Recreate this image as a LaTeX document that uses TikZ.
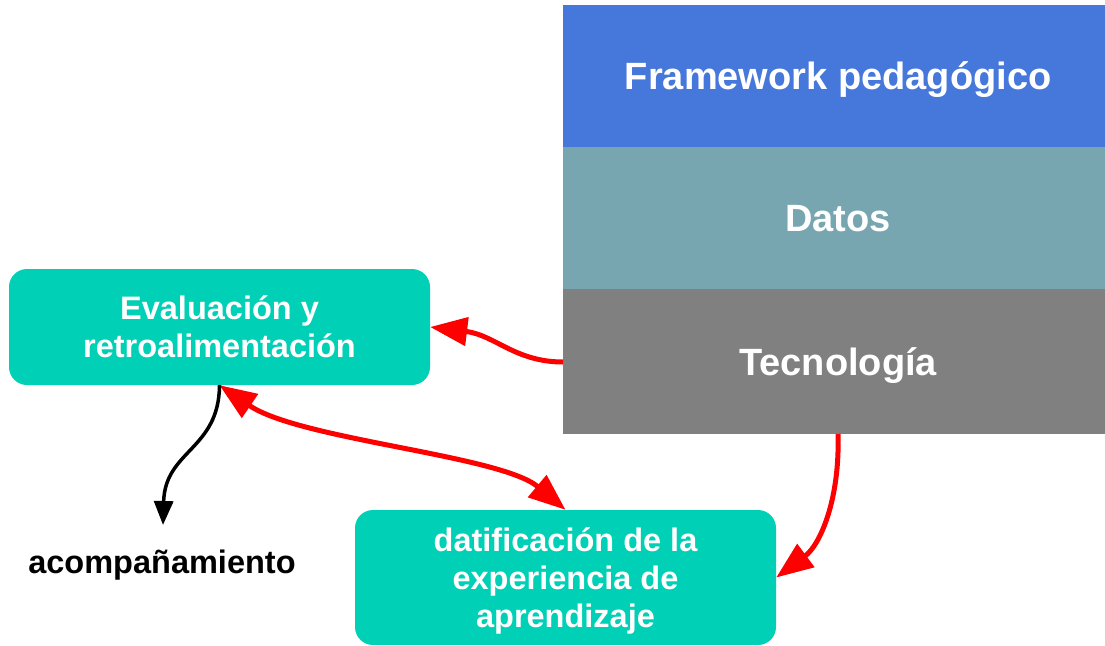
\documentclass[tikz,border=0pt]{standalone}
\usepackage{fontspec}
\setmainfont{Liberation Sans}
\usetikzlibrary{arrows.meta}
\definecolor{bandblue}{HTML}{4677DB}
\definecolor{bandteal}{HTML}{77A6B0}
\definecolor{bandgray}{HTML}{808080}
\definecolor{boxgreen}{HTML}{00D0B5}
\tikzset{
  band/.style={draw=none, minimum width=550pt, minimum height=142pt, inner sep=0pt, anchor=north west, text=white, text height=27pt, text depth=0pt, font=\bfseries\fontsize{38}{44}\selectfont},
  gbox/.style={fill=boxgreen, rounded corners=18pt, inner sep=0pt, text=white, align=center, font=\bfseries\fontsize{32.5}{38}\selectfont},
  redarrow/.style={draw=red, line width=5pt, -{Triangle[length=37pt,width=28pt]}},
  redboth/.style={draw=red, line width=5pt, {Triangle[length=37pt,width=28pt]}-{Triangle[length=37pt,width=28pt]}},
  blackarrow/.style={draw=black, line width=3.5pt, -{Triangle[length=24pt,width=19pt]}},
}
\begin{document}
\begin{tikzpicture}[x=1pt,y=-1pt]
\useasboundingbox (0,0) rectangle (1105,645);
\fill[white] (0,0) rectangle (1105,645);
\node[band, fill=bandblue, minimum height=142pt] (fw) at (563,5) {Framework pedagógico};
\node[band, fill=bandteal, minimum height=142pt] (dat) at (563,147) {Datos};
\node[band, fill=bandgray, minimum height=145pt] (tec) at (563,289) {Tecnología};
\node[gbox, minimum width=421pt, minimum height=116pt] (eval) at (219.5,327) {Evaluación y\\retroalimentación};
\node[gbox, minimum width=421pt, minimum height=135pt, text depth=0pt] (datif) at (565.5,577.5) {datificación de la\\experiencia de\\aprendizaje};
\node[font=\bfseries\fontsize{32.5}{38}\selectfont, inner sep=0pt] (acomp) at (162,565) {acompañamiento};
\coordinate (acompTop) at (163,525);
\coordinate (tecOut) at (563,362);
\coordinate (tecBot) at (838,434);
\draw[redarrow] (tecOut) .. controls (515,362) and (495,335) .. (eval.east);
\draw[redarrow] (tecBot) .. controls (840,500) and (820,545) .. (datif.east);
\draw[redboth] (eval.south) .. controls (300,440) and (500,455) .. (datif.north);
\draw[blackarrow] (eval.south) .. controls (219,450) and (165,450) .. (acompTop);
\end{tikzpicture}
\end{document}
